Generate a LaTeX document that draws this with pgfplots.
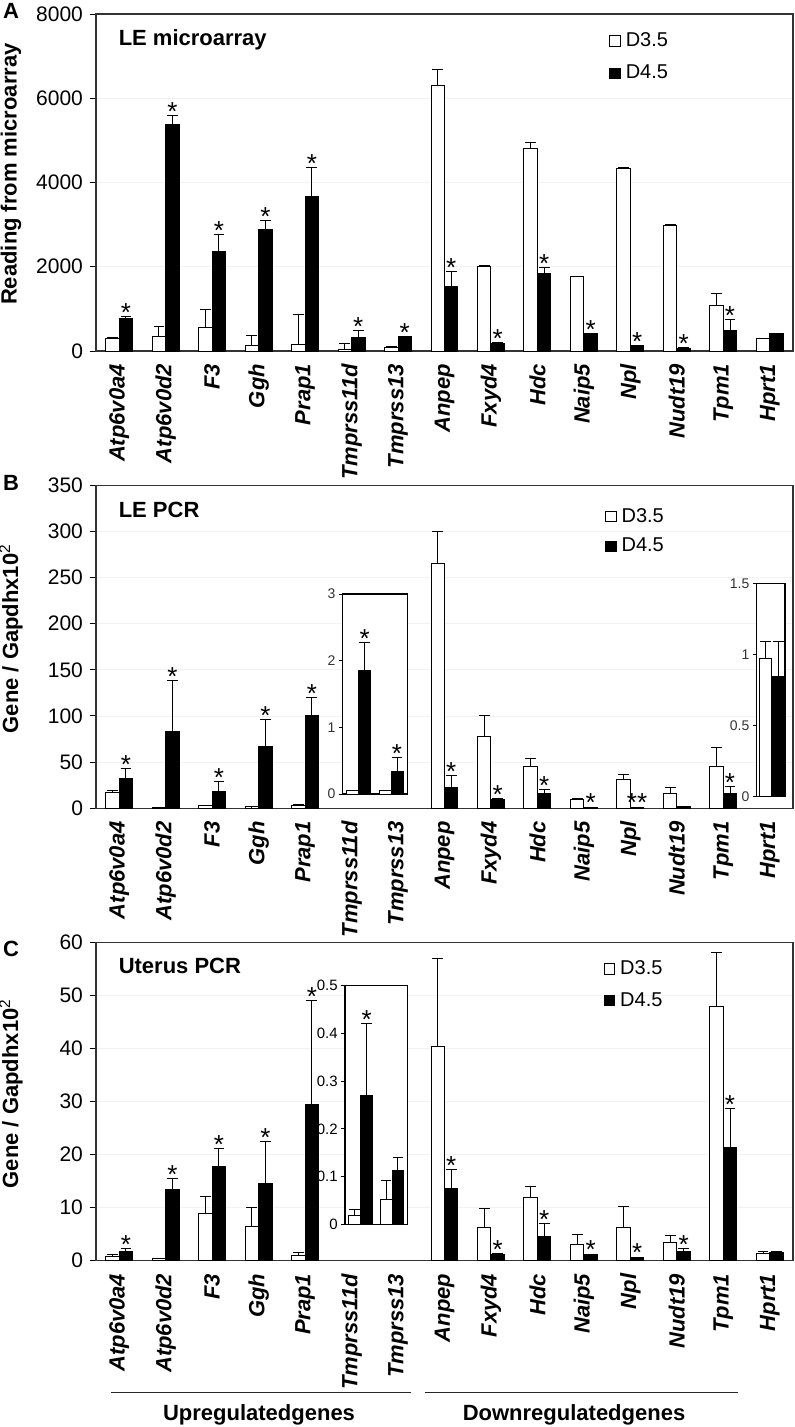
\documentclass[border=0pt]{standalone}
\usepackage{fontspec}
\setmainfont{Liberation Sans}
\usepackage{pgfplots}
\pgfplotsset{compat=1.18}
\pgfplotsset{
  mainax/.style={
    scale only axis, width=348.5pt,
    xmin=-0.5, xmax=14.5, ymin=0,
    xtick={0,...,14},
    xticklabels={Atp6v0a4,Atp6v0d2,F3,Ggh,Prap1,Tmprss11d,Tmprss13,Anpep,Fxyd4,Hdc,Naip5,Npl,Nudt19,Tpm1,Hprt1},
    xtick style={draw=none},
    xticklabel style={rotate=90, anchor=east, font=\fontsize{11}{12}\selectfont\bfseries\itshape},
    ytick pos=left, tick align=outside, major tick length=3pt,
    ytick style={black, line width=0.5pt},
    yticklabel style={font=\fontsize{10.5}{12}\selectfont},
    /pgf/number format/assume math mode=true, /pgf/number format/1000 sep={},
    ymajorgrids, major grid style={gray!10, line width=0.4pt},
    axis line style={black!80, line width=0.6pt},
    every axis y label/.style={at={(rel axis cs:-0.122,0.525)}, rotate=90, anchor=center, font=\fontsize{11}{13}\selectfont\bfseries},
    legend cell align=left,
    legend style={draw=none, fill=none, inner sep=0pt, font=\fontsize{10}{12}\selectfont, nodes={inner xsep=2.5pt}},
  },
  insetax/.style={
    scale only axis, ymin=0, xtick=\empty,
    ytick pos=left, tick align=outside, major tick length=2pt,
    ytick style={black, line width=0.4pt},
    yticklabel style={font=\fontsize{7}{8}\selectfont, text=black!80, inner sep=1.5pt},
    /pgf/number format/assume math mode=true,
    axis line style={black, line width=0.6pt},
    axis background/.style={fill=white},
  },
  wbar/.style={ybar, bar width=#1, bar shift=0pt, draw=black, fill=white, line width=0.5pt, forget plot,
    error bars/.cd, y dir=plus, y explicit, error bar style={line width=0.5pt, black},
    error mark=|, error mark options={black, line width=0.5pt, mark size=2.7pt}},
  bbar/.style={ybar, bar width=#1, bar shift=0pt, draw=black, fill=black, line width=0.5pt, forget plot,
    error bars/.cd, y dir=plus, y explicit, error bar style={line width=0.5pt, black},
    error mark=|, error mark options={black, line width=0.5pt, mark size=2.7pt}},
  stars/.style={draw=none, mark=none, forget plot, point meta=explicit symbolic, nodes near coords,
    nodes near coords style={anchor=base, inner sep=0pt, yshift=-2.5pt, font=\fontsize{13}{13}\selectfont, text=black}},
}
\newcommand{\legWB}{%
  \addlegendimage{legend image code/.code={\draw[black, line width=0.5pt, fill=white] (0pt,-2.6pt) rectangle (5.2pt,2.6pt);}}
  \addlegendentry{D3.5}
  \addlegendimage{legend image code/.code={\draw[black, line width=0.5pt, fill=black] (0pt,-2.6pt) rectangle (5.2pt,2.6pt);}}
  \addlegendentry{D4.5}}
\begin{document}
\begin{tikzpicture}
\useasboundingbox (0pt,0pt) rectangle (397.5pt,-713.5pt);

% ---------------- Panel A ----------------
\begin{axis}[mainax, at={(48pt,-175.5pt)}, anchor=south west, height=168.5pt,
  ymax=8000, ytick={0,2000,...,8000},
  ylabel={Reading from microarray},
  legend style={at={(0.736,0.958)}, anchor=north west, row sep=3.8pt}]
% D3.5 (white), bars at category index - 0.145
\addplot[wbar=0.29] coordinates {
 (-0.145,300) +- (0,30) (0.855,356) +- (0,220) (1.855,563) +- (0,427) (2.855,135) +- (0,228)
 (3.855,159) +- (0,703) (4.855,40) +- (0,140) (5.855,90) +- (0,25) (6.855,6302) +- (0,373)
 (7.855,2002) +- (0,28) (8.855,4798) +- (0,150) (9.855,1765) +- (0,15) (10.855,4339) +- (0,16)
 (11.855,2985) +- (0,10) (12.855,1085) +- (0,269) (13.855,285) +- (0,15)};
% D4.5 (black), bars at category index + 0.145
\addplot[bbar=0.29] coordinates {
 (0.145,775) +- (0,40) (1.145,5368) +- (0,221) (2.145,2359) +- (0,412) (3.145,2890) +- (0,214)
 (4.145,3665) +- (0,698) (5.145,330) +- (0,145) (6.145,340) +- (0,16) (7.145,1527) +- (0,366)
 (8.145,183) +- (0,17) (9.145,1829) +- (0,159) (10.145,411) +- (0,10) (11.145,119) +- (0,10)
 (12.145,71) +- (0,5) (13.145,475) +- (0,278) (14.145,404) +- (0,16)};
\addplot[stars] coordinates {
 (0.145,815) [*] (1.145,5589) [*] (2.145,2771) [*] (3.145,3104) [*] (4.145,4363) [*]
 (5.145,475) [*] (6.145,356) [*] (7.145,1893) [*] (8.145,200) [*] (9.145,1988) [*]
 (10.145,421) [*] (11.145,129) [*] (12.145,76) [*] (13.145,753) [*]};
\legWB
\node[anchor=west, font=\fontsize{11}{13}\selectfont\bfseries] at (rel axis cs:0.0225,0.923) {LE microarray};
\end{axis}

% ---------------- Panel B ----------------
\begin{axis}[mainax, at={(48pt,-404.15pt)}, anchor=south west, height=161.6pt,
  ymax=350, ytick={0,50,...,350},
  ylabel={Gene / Gapdhx10\textsuperscript{\normalfont 2}},
  legend style={at={(0.730,0.942)}, anchor=north west, row sep=2.4pt}]
\addplot[wbar=0.29] coordinates {
 (-0.145,16.9) +- (0,2.9) (0.855,1) +- (0,0.3) (1.855,3) +- (0,0.5) (2.855,1.5) +- (0,0.3) (3.855,3) +- (0,0.6)
 (6.855,264.8) +- (0,34.6) (7.855,78.3) +- (0,22.7) (8.855,45.5) +- (0,8.2) (9.855,9.7) +- (0,0.5)
 (10.855,31) +- (0,5.4) (11.855,16.2) +- (0,6.1) (12.855,45) +- (0,21)};
\addplot[bbar=0.29] coordinates {
 (0.145,32.4) +- (0,10.9) (1.145,83.3) +- (0,54.7) (2.145,18) +- (0,10.8) (3.145,66.7) +- (0,29.6) (4.145,100) +- (0,19.8)
 (7.145,22.3) +- (0,13.7) (8.145,9.7) +- (0,1) (9.145,15.5) +- (0,5.4) (10.145,1) +- (0,0)
 (11.145,0.5) +- (0,0) (12.145,1.5) +- (0,0) (13.145,16.2) +- (0,7.8)};
\addplot[stars] coordinates {
 (0.145,43.3) [*] (1.145,138) [*] (2.145,28.8) [*] (3.145,96.3) [*] (4.145,119.8) [*]
 (7.145,36) [*] (8.145,10.7) [*] (9.145,20.9) [*] (10.145,1.5) [*] (11.145,1.5) [**] (13.145,24) [*]};
\legWB
\node[anchor=west, font=\fontsize{11}{13}\selectfont\bfseries] at (rel axis cs:0.0225,0.924) {LE PCR};
\end{axis}

% inset B1 (Tmprss11d, Tmprss13)
\begin{axis}[insetax, at={(171.35pt,-397pt)}, anchor=south west, width=32.25pt, height=100pt,
  xmin=-0.5, xmax=1.5, ymax=3, ytick={0,1,2,3}]
\addplot[wbar=0.37] coordinates {(-0.185,0.05) +- (0,0) (0.815,0.05) +- (0,0)};
\addplot[bbar=0.37] coordinates {(0.185,1.86) +- (0,0.415) (1.185,0.335) +- (0,0.21)};
\addplot[stars] coordinates {(0.185,2.275) [*] (1.185,0.545) [*]};
\end{axis}

% inset B2 (Hprt1)
\begin{axis}[insetax, at={(378.35pt,-398.35pt)}, anchor=south west, width=14.15pt, height=106.7pt,
  xmin=-0.5, xmax=0.5, ymax=1.5, ytick={0,0.5,1,1.5}]
\addplot[wbar=0.45] coordinates {(-0.19,0.973) +- (0,0.12)};
\addplot[bbar=0.45] coordinates {(0.265,0.844) +- (0,0.246)};
\end{axis}

% ---------------- Panel C ----------------
\begin{axis}[mainax, at={(48pt,-630.35pt)}, anchor=south west, height=159.25pt,
  ymax=60, ytick={0,10,...,60},
  ylabel={Gene / Gapdhx10\textsuperscript{\normalfont 2}},
  legend style={at={(0.728,0.956)}, anchor=north west, row sep=3.4pt}]
\addplot[wbar=0.29] coordinates {
 (-0.145,0.8) +- (0,0.4) (0.855,0.4) +- (0,0.1) (1.855,8.9) +- (0,3.2) (2.855,6.4) +- (0,3.6) (3.855,1.07) +- (0,0.45)
 (6.855,40.4) +- (0,16.5) (7.855,6.3) +- (0,3.55) (8.855,12) +- (0,2.05) (9.855,3.1) +- (0,1.85)
 (10.855,6.2) +- (0,4) (11.855,3.5) +- (0,1.3) (12.855,47.8) +- (0,10.3) (13.855,1.4) +- (0,0.3)};
\addplot[bbar=0.29] coordinates {
 (0.145,1.7) +- (0,0.6) (1.145,13.5) +- (0,2) (2.145,17.8) +- (0,3.3) (3.145,14.6) +- (0,7.9) (4.145,29.5) +- (0,19.5)
 (7.145,13.6) +- (0,3.5) (8.145,1.2) +- (0,0.2) (9.145,4.5) +- (0,2.5) (10.145,1.2) +- (0,0)
 (11.145,0.6) +- (0,0) (12.145,1.8) +- (0,0.5) (13.145,21.4) +- (0,7.3) (14.145,1.5) +- (0,0.3)};
\addplot[stars] coordinates {
 (0.145,2.3) [*] (1.145,15.5) [*] (2.145,21.1) [*] (3.145,22.5) [*] (4.145,49) [*]
 (7.145,17.1) [*] (8.145,1.4) [*] (9.145,7) [*] (10.145,1.4) [*] (11.145,0.8) [*]
 (12.145,2.3) [*] (13.145,28.7) [*]};
\legWB
\node[anchor=west, font=\fontsize{11}{13}\selectfont\bfseries] at (rel axis cs:0.0225,0.927) {Uterus PCR};
\end{axis}

% inset C1 (Tmprss11d, Tmprss13)
\begin{axis}[insetax, at={(172.5pt,-612.15pt)}, anchor=south west, width=31.35pt, height=119.3pt,
  xmin=-0.5, xmax=1.5, ymax=0.5, ytick={0,0.1,0.2,0.3,0.4,0.5},
  yticklabel style={font=\fontsize{7.5}{8}\selectfont, text=black}]
\addplot[wbar=0.38] coordinates {(-0.19,0.018) +- (0,0.013) (0.81,0.051) +- (0,0.04)};
\addplot[bbar=0.38] coordinates {(0.19,0.27) +- (0,0.151) (1.19,0.112) +- (0,0.028)};
\addplot[stars] coordinates {(0.19,0.421) [*]};
\end{axis}

% panel letters
\node[font=\fontsize{11}{13}\selectfont\bfseries] at (5.5pt,-5.5pt) {A};
\node[font=\fontsize{11}{13}\selectfont\bfseries] at (5.5pt,-241.5pt) {B};
\node[font=\fontsize{11}{13}\selectfont\bfseries] at (5.5pt,-474.5pt) {C};

% group brackets
\draw[black!85, line width=0.8pt] (55.5pt,-696.25pt) -- (205.5pt,-696.25pt);
\draw[black!85, line width=0.8pt] (212.5pt,-696.25pt) -- (369pt,-696.25pt);
\node[font=\fontsize{11}{13}\selectfont\bfseries] at (129.5pt,-707.5pt) {Upregulatedgenes};
\node[font=\fontsize{11}{13}\selectfont\bfseries] at (287pt,-707.5pt) {Downregulatedgenes};
\end{tikzpicture}
\end{document}
